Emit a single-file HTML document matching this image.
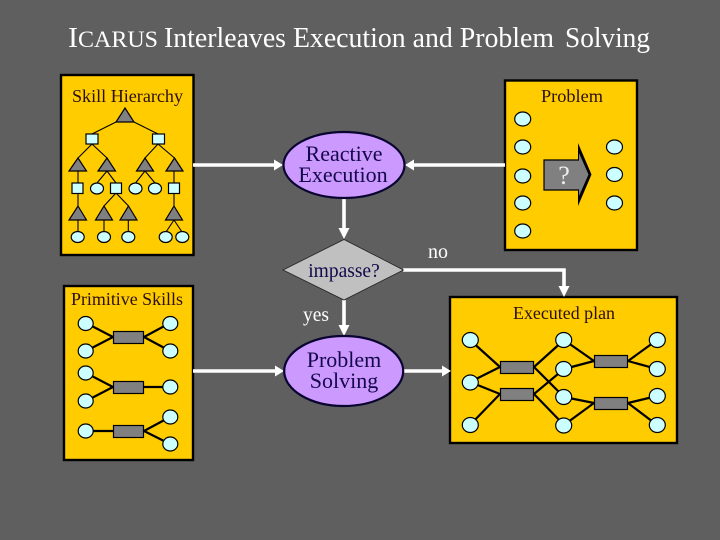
<!DOCTYPE html>
<html><head><meta charset="utf-8"><style>
html,body{margin:0;padding:0;background:#5f5f5f}
svg{display:block}
text{font-family:"Liberation Serif",serif}
.t{fill:#fff}
.l{fill:#2a0f10;font-size:18px}
.e{fill:#14084a;font-size:22px;text-anchor:middle}
.c{fill:#ccffff;stroke:#000;stroke-width:1.2}
.g{fill:#808080;stroke:#000;stroke-width:1.2}
.k{stroke:#000;stroke-width:1.1;fill:none}
.b{stroke:#000;stroke-width:2.2;fill:none}
.a{stroke:#fff;stroke-width:3.6;fill:none}
.h{fill:#fff}
</style></head><body>
<svg width="720" height="540" viewBox="0 0 720 540" xmlns="http://www.w3.org/2000/svg">
<rect width="720" height="540" fill="#5f5f5f"/>
<text class="t" x="68" y="47" font-size="29" textLength="90" lengthAdjust="spacingAndGlyphs">I<tspan font-size="23">CARUS</tspan></text>
<text class="t" x="164" y="47" font-size="29" textLength="390" lengthAdjust="spacingAndGlyphs">Interleaves Execution and Problem</text>
<text class="t" x="565" y="47" font-size="29" textLength="85" lengthAdjust="spacingAndGlyphs">Solving</text>

<!-- boxes -->
<g fill="#ffcc00" stroke="#000" stroke-width="2.4">
<rect x="61" y="75" width="132.5" height="180"/>
<rect x="64" y="286" width="129" height="174"/>
<rect x="505" y="80.500" width="132" height="169.500"/>
<rect x="450" y="297" width="227" height="146"/>
</g>

<!-- Skill hierarchy -->
<text class="l" x="72" y="102" textLength="111" lengthAdjust="spacingAndGlyphs">Skill Hierarchy</text>
<path class="k" d="M116 122L92 134M134 122L158 134M92 144L78 158M92 144L107 158M158 144L145 158M158 144L174.500 158M78 171V206M78 220V232M107 171L97 183M107 171L116 183M145 171L135.500 183M145 171L155 183M174 171V183M174 193V206M116 193L104 206M116 193L128.500 206M104 220V232M128.300 220V232M174 220L166 232M174 220L182 232"/>
<g class="g">
<polygon points="125,108 134,122 116,122"/>
<polygon points="78,158 86.500,171 69,171"/>
<polygon points="107,158 115.500,171 98,171"/>
<polygon points="145,158 153.500,171 136.500,171"/>
<polygon points="174.500,158 183,171 166,171"/>
<polygon points="78,206 86.500,220 69,220"/>
<polygon points="104,206 112.500,220 95.500,220"/>
<polygon points="128.500,206 137,220 120,220"/>
<polygon points="174,206 182.500,220 165.500,220"/>
</g>
<g class="c">
<rect x="86" y="134" width="12" height="10"/>
<rect x="152.500" y="134" width="12" height="10"/>
<rect x="72" y="183" width="11" height="10.500"/>
<rect x="110.500" y="183" width="11" height="10.500"/>
<rect x="168.500" y="183" width="11" height="10.500"/>
<ellipse cx="97" cy="188.500" rx="6.500" ry="5.500"/>
<ellipse cx="135.500" cy="188.500" rx="6.500" ry="5.500"/>
<ellipse cx="155" cy="188.500" rx="6.500" ry="5.500"/>
<ellipse cx="77.700" cy="237" rx="6.500" ry="5.500"/>
<ellipse cx="104" cy="237" rx="6.500" ry="5.500"/>
<ellipse cx="128.300" cy="237" rx="6.500" ry="5.500"/>
<ellipse cx="165.700" cy="237" rx="6.500" ry="5.500"/>
<ellipse cx="182.300" cy="237" rx="6.500" ry="5.500"/>
</g>

<!-- Primitive skills -->
<text class="l" x="71" y="305" textLength="112" lengthAdjust="spacingAndGlyphs">Primitive Skills</text>
<path class="b" d="M86 323L113 337M86 351L113 337M170 323L144 337M170 351L144 337M86 373L113 387M86 401L113 387M144 387H170M86 431H113M170 417L144 431M170 444L144 431"/>
<g class="g">
<rect x="113.500" y="331.500" width="30" height="12"/>
<rect x="113.500" y="381.500" width="30" height="12"/>
<rect x="113.500" y="425.500" width="30" height="12"/>
</g>
<g class="c">
<ellipse cx="85.700" cy="323.500" rx="7.500" ry="7"/>
<ellipse cx="85.700" cy="351" rx="7.500" ry="7"/>
<ellipse cx="85.700" cy="373" rx="7.500" ry="7"/>
<ellipse cx="85.700" cy="401" rx="7.500" ry="7"/>
<ellipse cx="85.700" cy="431" rx="7.500" ry="7"/>
<ellipse cx="170.300" cy="323.500" rx="7.500" ry="7"/>
<ellipse cx="170.300" cy="351" rx="7.500" ry="7"/>
<ellipse cx="170.300" cy="387" rx="7.500" ry="7"/>
<ellipse cx="170.300" cy="417" rx="7.500" ry="7"/>
<ellipse cx="170.300" cy="444" rx="7.500" ry="7"/>
</g>

<!-- Problem -->
<text class="l" x="541" y="102" textLength="62" lengthAdjust="spacingAndGlyphs">Problem</text>
<polygon points="578,143 591.500,174.500 578,206" fill="#000"/>
<polygon points="544,160 579,160 579,153 588.500,174.500 579,196 579,190 544,190" fill="#808080"/>
<path d="M579 160H544V190H579" fill="none" stroke="#000" stroke-width="1.2"/>
<text x="564" y="184" font-size="26" fill="#eee" text-anchor="middle">?</text>
<g class="c">
<ellipse cx="522.700" cy="119" rx="8" ry="7"/>
<ellipse cx="522.700" cy="147" rx="8" ry="7"/>
<ellipse cx="522.700" cy="176" rx="8" ry="7"/>
<ellipse cx="522.700" cy="203" rx="8" ry="7"/>
<ellipse cx="522.700" cy="231" rx="8" ry="7"/>
<ellipse cx="614.500" cy="147" rx="8" ry="7"/>
<ellipse cx="614.500" cy="174.500" rx="8" ry="7"/>
<ellipse cx="614.500" cy="203" rx="8" ry="7"/>
</g>

<!-- Executed plan -->
<text class="l" x="513" y="319" textLength="102" lengthAdjust="spacingAndGlyphs">Executed plan</text>
<path class="b" d="M470 340L500 367M470 382L500 367M470 382L500 394M470 425L500 394M534 367L564 340M534 394L564 369M534 367L564 397M534 394L564 425M564 340L594 361M564 369L594 361M564 397L594 403M564 425L594 403M628 361L657 340M628 361L657 369M628 403L657 396M628 403L657 425"/>
<g class="g">
<rect x="500.500" y="361.500" width="33" height="12"/>
<rect x="500.500" y="388.500" width="33" height="12"/>
<rect x="594.500" y="355.500" width="33" height="12"/>
<rect x="594.500" y="397.500" width="33" height="12"/>
</g>
<g class="c">
<ellipse cx="470.300" cy="340" rx="8" ry="7.500"/>
<ellipse cx="470.300" cy="382.500" rx="8" ry="7.500"/>
<ellipse cx="470.300" cy="425" rx="8" ry="7.500"/>
<ellipse cx="563.700" cy="340" rx="8" ry="7.500"/>
<ellipse cx="563.700" cy="369" rx="8" ry="7.500"/>
<ellipse cx="563.700" cy="397" rx="8" ry="7.500"/>
<ellipse cx="563.700" cy="425.500" rx="8" ry="7.500"/>
<ellipse cx="657.300" cy="340" rx="8" ry="7.500"/>
<ellipse cx="657.300" cy="369" rx="8" ry="7.500"/>
<ellipse cx="657.300" cy="396" rx="8" ry="7.500"/>
<ellipse cx="657.300" cy="425" rx="8" ry="7.500"/>
</g>

<!-- connectors -->
<path class="a" d="M193 165H276M505 165H412M344 198V230M403 270H564V289M344 300V327M193 371H276M403 371H444"/>
<g class="h">
<polygon points="283,165 274,159.500 274,170.500"/>
<polygon points="405,165 414,159.500 414,170.500"/>
<polygon points="344,239 338.500,228 349.500,228"/>
<polygon points="564,297 558.500,286 569.500,286"/>
<polygon points="344,336 338.500,325 349.500,325"/>
<polygon points="284,371 275,365.500 275,376.500"/>
<polygon points="451,371 442,365.500 442,376.500"/>
</g>

<!-- nodes -->
<ellipse cx="344" cy="165" rx="60.500" ry="33" fill="#cc99ff" stroke="#0a0430" stroke-width="2.2"/>
<text class="e" x="344" y="161">Reactive</text>
<text class="e" x="343" y="182">Execution</text>
<polygon points="344,239.500 403.500,270 344,300 283,270" fill="#c0c0c0" stroke="#222" stroke-width="0.8"/>
<text x="344" y="277" font-size="19.500" fill="#14084a" text-anchor="middle">impasse?</text>
<ellipse cx="343.700" cy="371" rx="59.500" ry="35" fill="#cc99ff" stroke="#0a0430" stroke-width="2.2"/>
<text class="e" x="344" y="367">Problem</text>
<text class="e" x="344" y="388">Solving</text>

<text x="428" y="258" font-size="20" fill="#fff">no</text>
<text x="303" y="321" font-size="19.500" fill="#fff">yes</text>
</svg>
</body></html>
